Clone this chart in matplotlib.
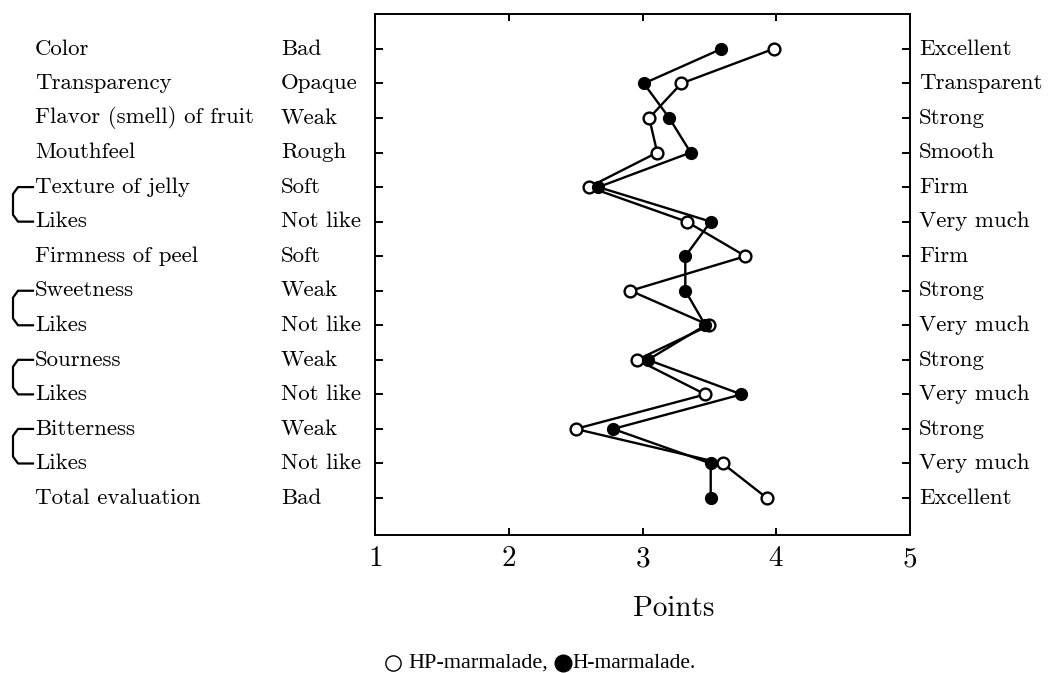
import matplotlib
matplotlib.use('Agg')
import matplotlib.pyplot as plt
import matplotlib.transforms as mtransforms
from matplotlib.lines import Line2D
import numpy as np

# sensory attributes (top to bottom)
attributes = ['Color', 'Transparency', 'Flavor (smell) of fruit', 'Mouthfeel',
              'Texture of jelly', 'Likes', 'Firmness of peel', 'Sweetness', 'Likes',
              'Sourness', 'Likes', 'Bitterness', 'Likes', 'Total evaluation']
low_labels = ['Bad', 'Opaque', 'Weak', 'Rough', 'Soft', 'Not like', 'Soft', 'Weak',
              'Not like', 'Weak', 'Not like', 'Weak', 'Not like', 'Bad']
high_labels = ['Excellent', 'Transparent', 'Strong', 'Smooth', 'Firm', 'Very much', 'Firm',
               'Strong', 'Very much', 'Strong', 'Very much', 'Strong', 'Very much', 'Excellent']
hp_scores = [3.98, 3.29, 3.05, 3.11, 2.60, 3.33, 3.77, 2.91, 3.50, 2.96, 3.47, 2.50, 3.60, 3.93]
h_scores = [3.59, 3.01, 3.20, 3.36, 2.67, 3.51, 3.32, 3.32, 3.47, 3.04, 3.74, 2.78, 3.51, 3.51]
# pairs of rows joined by a bracket
bracket_rows = [(4, 5), (7, 8), (9, 10), (11, 12)]

plt.rcParams['axes.formatter.use_mathtext'] = True
fig = plt.figure(figsize=(10.49, 6.73), dpi=100)
ax = fig.add_axes([375/1049, 1-535/673, 535/1049, 521/673])

rows = np.arange(len(attributes))
ax.plot(hp_scores, rows, color='black', lw=1.7, marker='o', ms=8.5, mfc='white',
        mec='black', mew=1.7, zorder=3)
ax.plot(h_scores, rows, color='black', lw=1.7, marker='o', ms=8.5, mfc='black',
        mec='black', zorder=4)

ax.set_xlim(1, 5)
ax.set_ylim(14.07, -1.01)
ax.set_xticks([1, 2, 3, 4, 5])
ax.set_yticks(rows)
ax.set_yticklabels([])
ax.tick_params(axis='x', direction='in', length=5, width=1.4, top=True,
               labelsize=21, pad=8)
ax.tick_params(axis='y', direction='in', length=6, width=1.4, right=True)
for lab in ax.get_xticklabels():
    lab.set_family('cmr10')
for s in ax.spines.values():
    s.set_linewidth(1.4)
fig.text(674/1049, 1-609/673, 'Points', fontsize=21, family='cmr10',
         ha='center', va='center')

tr = mtransforms.blended_transform_factory(fig.transFigure, ax.transData)
for i in rows:
    ax.text(35/1049, i, attributes[i], transform=tr, fontsize=16.5, family='cmr10',
            va='center', ha='left')
    ax.text(281/1049, i, low_labels[i], transform=tr, fontsize=16.5, family='cmr10',
            va='center', ha='left')
    ax.text(919/1049, i, high_labels[i], transform=tr, fontsize=16.5, family='cmr10',
            va='center', ha='left')

for a, b in bracket_rows:
    xs = np.array([33, 18, 13, 13, 18, 33]) / 1049
    ys = [a, a, a + 0.2, b - 0.2, b, b]
    ax.plot(xs, ys, transform=tr, color='black', lw=1.6, clip_on=False,
            solid_joinstyle='round')

# legend line below the chart
ly = 1 - 663/673
fig.add_artist(Line2D([393/1049], [ly], marker='o', ms=11, mfc='white', mec='black',
                      mew=1.0, transform=fig.transFigure))
fig.text(408/1049, ly, 'HP-marmalade,', fontsize=16, family='Liberation Serif',
         ha='left', va='center')
fig.add_artist(Line2D([563/1049], [ly], marker='o', ms=12, mfc='black', mec='black',
                      transform=fig.transFigure))
fig.text(572/1049, ly, 'H-marmalade.', fontsize=15.5, family='Liberation Serif',
         ha='left', va='center')

fig.savefig('out.png', dpi=100)
